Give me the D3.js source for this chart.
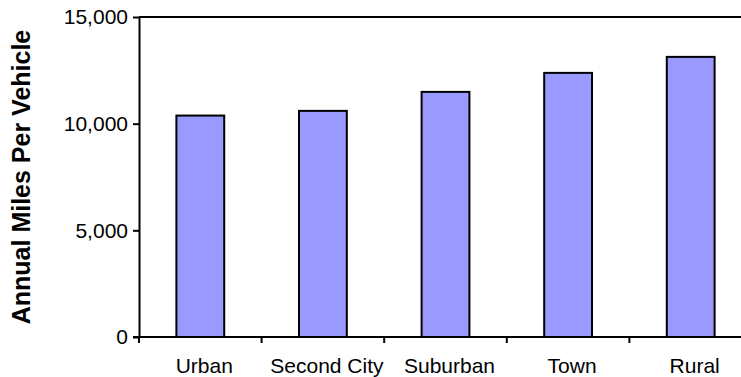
<!DOCTYPE html>
<html>
<head>
<meta charset="utf-8">
<script src="https://cdn.jsdelivr.net/npm/d3@7"></script>
<style>
  html, body { margin: 0; padding: 0; background: #fff; }
  svg { display: block; }
  text { font-family: "Liberation Sans", Arial, sans-serif; fill: #000; }
</style>
</head>
<body>
<svg id="chart" width="741" height="377"></svg>
<script>
// Annual miles per vehicle by neighbourhood type
const categories = ["Urban", "Second City", "Suburban", "Town", "Rural"];
const milesPerVehicle = [10380, 10600, 11490, 12380, 13130];
const yTickValues = [0, 5000, 10000, 15000];
const yTitle = "Annual Miles Per Vehicle";

const svg = d3.select("#chart");
const W = 741, H = 377;

// plot frame
const plotLeft = 139, plotTop = 17, plotBottom = 337;
const step = 122.6;
const plotRight = plotLeft + step * categories.length;

const x = d3.scaleBand()
  .domain(categories)
  .range([plotLeft, plotRight])
  .paddingInner(0.61)
  .paddingOuter(0.305);

const xCat = d3.scaleBand().domain(categories).range([plotLeft, plotRight]).padding(0);

const y = d3.scaleLinear().domain([0, 15000]).range([plotBottom, plotTop]);

const fmt = d3.format(",");

// bars
svg.append("g")
  .selectAll("rect")
  .data(categories)
  .join("rect")
  .attr("x", d => x(d))
  .attr("width", x.bandwidth())
  .attr("y", (d, i) => y(milesPerVehicle[i]))
  .attr("height", (d, i) => y(0) - y(milesPerVehicle[i]))
  .attr("fill", "#9999FF")
  .attr("stroke", "#000")
  .attr("stroke-width", 2);

// top frame line
svg.append("line")
  .attr("x1", plotLeft).attr("x2", W)
  .attr("y1", plotTop).attr("y2", plotTop)
  .attr("stroke", "#000").attr("stroke-width", 2);

// y axis
const yAxis = svg.append("g")
  .attr("transform", `translate(${plotLeft},0)`)
  .call(d3.axisLeft(y).tickValues(yTickValues).tickFormat(fmt).tickSize(6).tickPadding(5).tickSizeOuter(0));
yAxis.select(".domain").attr("stroke-width", 2);
yAxis.selectAll(".tick line").attr("stroke-width", 2);
yAxis.selectAll(".tick text").style("font-size", "21px");

// x axis line with category boundary ticks
const boundaries = categories.map(c => xCat(c)).concat([plotRight]);
svg.append("line")
  .attr("x1", plotLeft - 6).attr("x2", W)
  .attr("y1", plotBottom).attr("y2", plotBottom)
  .attr("stroke", "#000").attr("stroke-width", 2);
svg.append("g")
  .selectAll("line")
  .data(boundaries)
  .join("line")
  .attr("x1", d => d).attr("x2", d => d)
  .attr("y1", plotBottom).attr("y2", plotBottom + 6)
  .attr("stroke", "#000").attr("stroke-width", 2);

// category labels
svg.append("g")
  .selectAll("text")
  .data(categories)
  .join("text")
  .attr("x", d => xCat(d) + xCat.bandwidth() / 2 + 4)
  .attr("y", 373)
  .attr("text-anchor", "middle")
  .style("font-size", "21px")
  .text(d => d);

// y axis title
svg.append("text")
  .attr("transform", `translate(30, ${(plotTop + plotBottom) / 2}) rotate(-90)`)
  .attr("text-anchor", "middle")
  .style("font-size", "25px")
  .style("font-weight", "bold")
  .text(yTitle);
</script>
</body>
</html>
